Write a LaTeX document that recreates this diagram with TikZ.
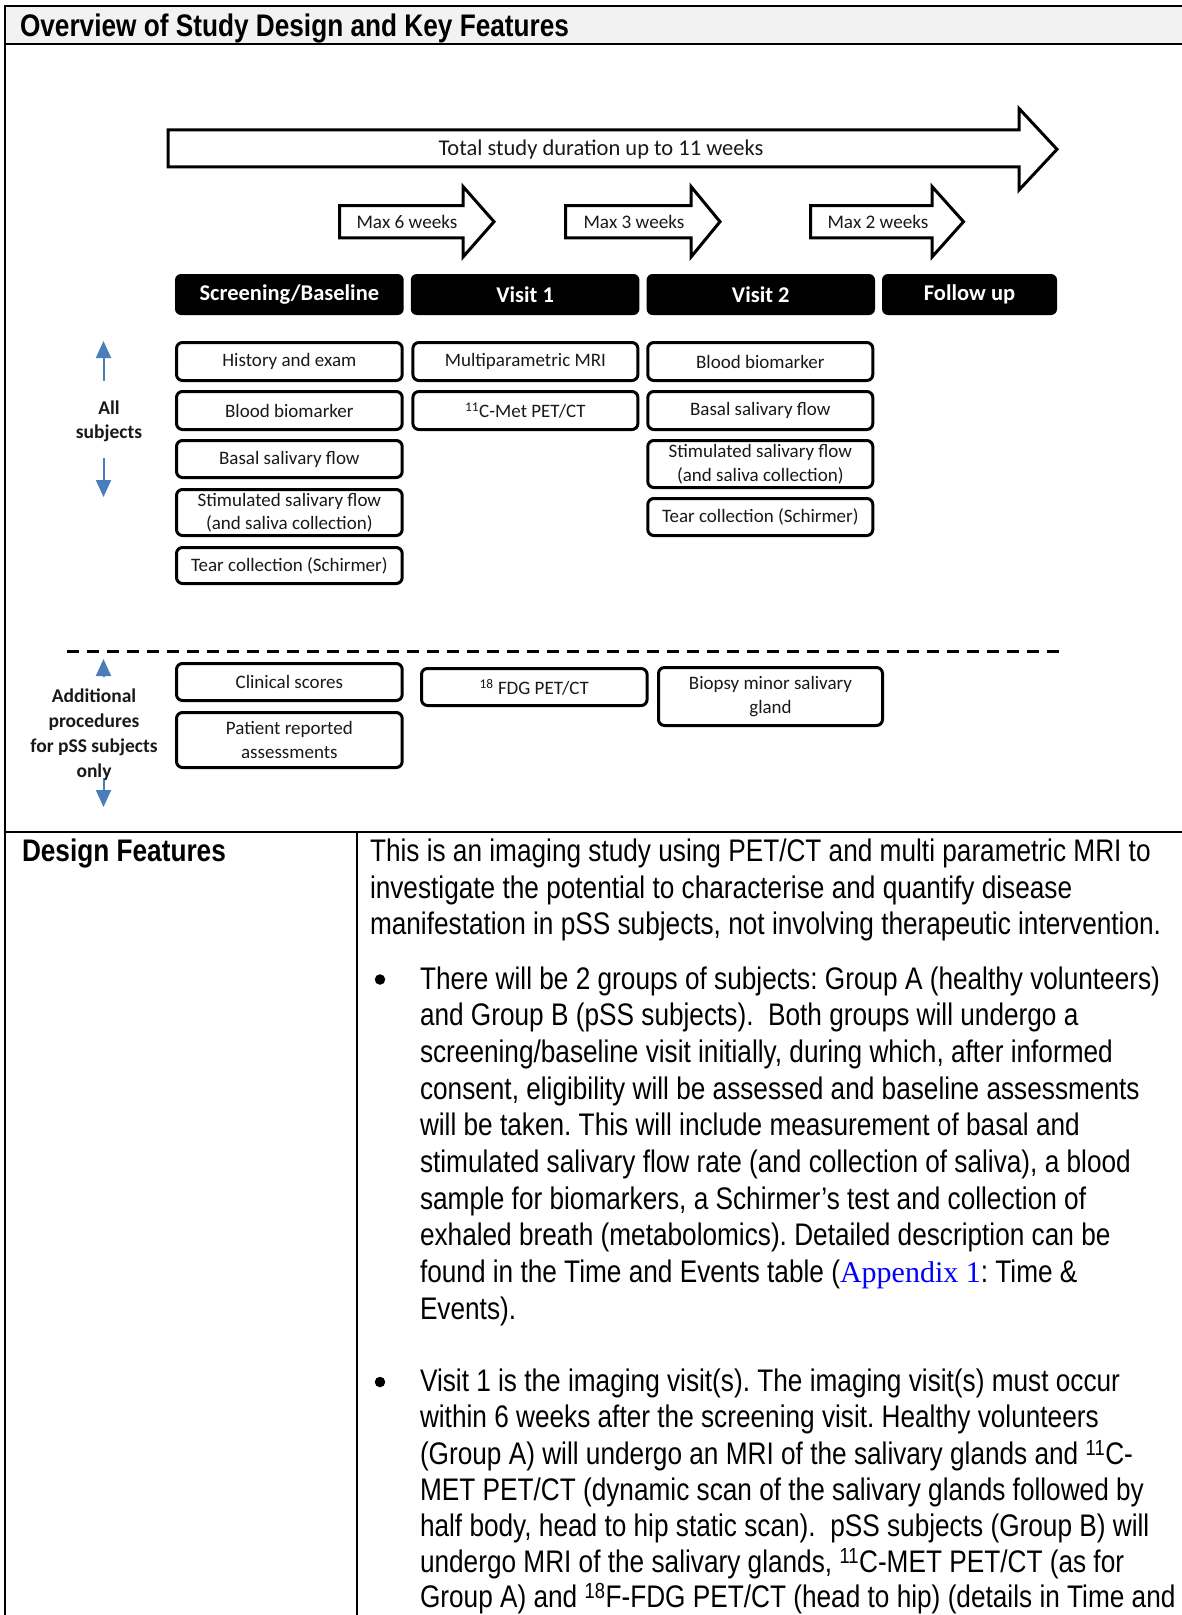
\documentclass[tikz,border=0pt]{standalone}
\usepackage{fontspec}
\usetikzlibrary{arrows.meta}
\setmainfont{Liberation Sans}
\newfontfamily\narrowfont{Liberation Sans}[FakeStretch=0.84]
\newfontfamily\calfont{Carlito}
\newfontfamily\timesfont{Liberation Serif}
\definecolor{arrowblue}{RGB}{74,126,187}
\definecolor{titlegray}{RGB}{242,242,242}
\definecolor{linkblue}{RGB}{0,0,255}
\frenchspacing
\tikzset{
  every node/.style={inner sep=0pt, outer sep=0pt},
  hdr/.style={fill=black, rounded corners=6pt, text=white, align=center,
    font=\calfont\bfseries\fontsize{22.5}{26}\selectfont},
  wbox/.style={draw=black, line width=3pt, rounded corners=6pt, fill=white,
    align=center, text=black!90, font=\calfont\fontsize{19}{23.5}\selectfont},
  blockarr/.style={draw=black, line width=3pt, fill=white, line join=miter},
  arrtxt/.style={font=\calfont\fontsize{19.2}{23}\selectfont, text=black!90},
  bluearr/.style={draw=arrowblue, line width=2pt, -{Triangle[width=15pt,length=17pt]}},
  sidelbl/.style={align=center, text=black!90, font=\calfont\bfseries\fontsize{19.5}{24}\selectfont},
  bodytxt/.style={anchor=base west, font=\narrowfont\frenchspacing\fontsize{31.2}{36}\selectfont},
  bulletdot/.style={circle, fill=black, minimum size=10.5pt},
  tline/.style={line width=2.5pt},
  sepdash/.style={line width=2.5pt, dash pattern=on 12pt off 8pt},
}
\begin{document}
\begin{tikzpicture}[x=1pt,y=-1pt]
\useasboundingbox (0,0) rectangle (1182,1615);
\fill[white] (0,0) rectangle (1182,1615);

% ---------- table frame ----------
\fill[titlegray] (5,6) rectangle (1182,44);
\draw[tline] (5,6) -- (1182,6);
\draw[tline] (5,44) -- (1182,44);
\draw[tline] (5,832) -- (1182,832);
\draw[tline] (5,4.75) -- (5,1615);
\draw[tline] (357,832) -- (357,1615);

\node[anchor=base west, font=\narrowfont\bfseries\fontsize{31.2}{36}\selectfont] (title) at (20,36) {Overview of Study Design and Key Features};

% ---------- block arrows ----------
\draw[blockarr] (168,129.8) -- (1019,129.8) -- (1019,108.5) -- (1057,149.3) -- (1019,190) -- (1019,166.8) -- (168,166.8) -- cycle;
\node[font=\calfont\fontsize{22.5}{26}\selectfont, text=black!90] (total) at (601,149) {Total study duration up to 11 weeks};

\draw[blockarr] (339.5,205.5) -- (463,205.5) -- (463,186.5) -- (494,221.7) -- (463,257) -- (463,237.8) -- (339.5,237.8) -- cycle;
\draw[blockarr] (565.5,205.5) -- (691,205.5) -- (691,186.5) -- (720,221.7) -- (691,257) -- (691,237.8) -- (565.5,237.8) -- cycle;
\draw[blockarr] (810.5,205.5) -- (932,205.5) -- (932,186.5) -- (963.5,221.7) -- (932,257) -- (932,237.8) -- (810.5,237.8) -- cycle;
\node[arrtxt] (max6) at (407,221.7) {Max 6 weeks};
\node[arrtxt] (max3) at (634,221.7) {Max 3 weeks};
\node[arrtxt] (max2) at (878,221.7) {Max 2 weeks};

% ---------- headers ----------
\node[hdr, minimum width=228.7pt, minimum height=41pt] (scr) at (289.35,294.5) {Screening/Baseline};
\node[hdr, minimum width=228.6pt, minimum height=41pt] (v1) at (525.1,294.5) {Visit 1};
\node[hdr, minimum width=228.4pt, minimum height=41pt] (v2) at (760.8,294.5) {Visit 2};
\node[hdr, minimum width=175pt, minimum height=41pt] (fu) at (969.5,294.5) {Follow up};

% ---------- column 1 ----------
\node[wbox, minimum width=225.7pt, minimum height=38pt] (c1a) at (289.35,361.5) {History and exam};
\node[wbox, minimum width=225.7pt, minimum height=38pt] (c1b) at (289.35,410.5) {Blood biomarker};
\node[wbox, minimum width=225.7pt, minimum height=37pt] (c1c) at (289.35,459) {Basal salivary flow};
\node[wbox, minimum width=225.7pt, minimum height=46pt] (c1d) at (289.35,512.5) {Stimulated salivary flow\\(and saliva collection)};
\node[wbox, minimum width=225.7pt, minimum height=36pt] (c1e) at (289.35,565.5) {Tear collection (Schirmer)};

% ---------- column 2 ----------
\node[wbox, minimum width=225pt, minimum height=38pt] (c2a) at (525.4,361.5) {Multiparametric MRI};
\node[wbox, minimum width=225pt, minimum height=38pt] (c2b) at (525.4,410.5) {\textsuperscript{11}C-Met PET/CT};

% ---------- column 3 ----------
\node[wbox, minimum width=225pt, minimum height=38pt] (c3a) at (760.3,361.5) {Blood biomarker};
\node[wbox, minimum width=225pt, minimum height=38pt] (c3b) at (760.3,410.5) {Basal salivary flow};
\node[wbox, minimum width=225pt, minimum height=47pt] (c3c) at (760.3,464) {Stimulated salivary flow\\(and saliva collection)};
\node[wbox, minimum width=225pt, minimum height=37pt] (c3d) at (760.3,517) {Tear collection (Schirmer)};

% ---------- all subjects ----------
\coordinate (upA0) at (103.5,381);
\coordinate (upA1) at (103.5,341);
\coordinate (dnA0) at (103.5,458);
\coordinate (dnA1) at (103.5,497);
\draw[bluearr] (upA0) -- (upA1);
\draw[bluearr] (dnA0) -- (dnA1);
\node[sidelbl] (allsub) at (109,421) {All\\subjects};

% ---------- separator ----------
\coordinate (dashL) at (67,651.7);
\coordinate (dashR) at (1065,651.7);
\draw[sepdash] (dashL) -- (dashR);

% ---------- pSS only ----------
\node[wbox, minimum width=225.7pt, minimum height=37pt] (d1a) at (289.35,682) {Clinical scores};
\node[wbox, minimum width=225.7pt, minimum height=55pt] (d1b) at (289.35,740) {Patient reported\\assessments};
\node[wbox, minimum width=225.6pt, minimum height=37pt] (d2a) at (534.3,687) {\textsuperscript{18} FDG PET/CT};
\node[wbox, minimum width=224pt, minimum height=58pt] (d3a) at (770.5,696.5) {Biopsy minor salivary\\gland};

\coordinate (upB0) at (103.5,677);
\coordinate (upB1) at (103.5,659);
\coordinate (dnB0) at (103.5,778);
\coordinate (dnB1) at (103.5,807);
\draw[bluearr] (upB0) -- (upB1);
\draw[bluearr] (dnB0) -- (dnB1);
\node[sidelbl, font=\calfont\bfseries\fontsize{19.5}{25}\selectfont] (addl) at (94,734.5) {Additional\\procedures\\for pSS subjects\\only};

% ---------- design features ----------
\node[anchor=base west, font=\narrowfont\bfseries\fontsize{31.2}{36}\selectfont] (dfhead) at (22,861.5) {Design Features};

\node[bodytxt] (p1) at (370,861.5) {This is an imaging study using PET/CT and multi parametric MRI to};
\node[bodytxt] (p2) at (370,898.2) {investigate the potential to characterise and quantify disease};
\node[bodytxt] (p3) at (370,934.8) {manifestation in pSS subjects, not involving therapeutic intervention.};

\node[bulletdot] (bul1) at (380,979.5) {};
\node[bodytxt] (a1) at (420,989.2) {There will be 2 groups of subjects: Group A (healthy volunteers)};
\node[bodytxt] (a2) at (420,1025.9) {and Group B (pSS subjects). \ Both groups will undergo a};
\node[bodytxt] (a3) at (420,1062.5) {screening/baseline visit initially, during which, after informed};
\node[bodytxt] (a4) at (420,1099.2) {consent, eligibility will be assessed and baseline assessments};
\node[bodytxt] (a5) at (420,1135.9) {will be taken. This will include measurement of basal and};
\node[bodytxt] (a6) at (420,1172.5) {stimulated salivary flow rate (and collection of saliva), a blood};
\node[bodytxt] (a7) at (420,1209.2) {sample for biomarkers, a Schirmer’s test and collection of};
\node[bodytxt] (a8) at (420,1245.9) {exhaled breath (metabolomics). Detailed description can be};
\node[bodytxt] (a9) at (420,1282.5) {found in the Time and Events table ({\timesfont\fontsize{30}{36}\selectfont\color{linkblue}Appendix 1}: Time \&};
\node[bodytxt] (a10) at (420,1319.2) {Events).};

\node[bulletdot] (bul2) at (380,1382) {};
\node[bodytxt] (b1) at (420,1391.7) {Visit 1 is the imaging visit(s). The imaging visit(s) must occur};
\node[bodytxt] (b2) at (420,1427.9) {within 6 weeks after the screening visit. Healthy volunteers};
\node[bodytxt] (b3) at (420,1464.1) {(Group A) will undergo an MRI of the salivary glands and \textsuperscript{11}C-};
\node[bodytxt] (b4) at (420,1500.3) {MET PET/CT (dynamic scan of the salivary glands followed by};
\node[bodytxt] (b5) at (420,1536.5) {half body, head to hip static scan). \ pSS subjects (Group B) will};
\node[bodytxt] (b6) at (420,1572.7) {undergo MRI of the salivary glands, \textsuperscript{11}C-MET PET/CT (as for};
\node[bodytxt] (b7) at (420,1607.5) {Group A) and \textsuperscript{18}F-FDG PET/CT (head to hip) (details in Time and};
\end{tikzpicture}
\end{document}
